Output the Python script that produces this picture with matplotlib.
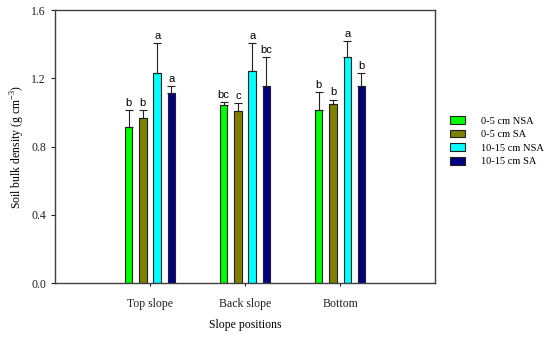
import numpy as np
import matplotlib
matplotlib.use('Agg')
import matplotlib.pyplot as plt

# %% podaci

positions = ['Top slope', 'Back slope', 'Bottom']
series_names = ['0-5 cm NSA', '0-5 cm SA', '10-15 cm NSA', '10-15 cm SA']

nsa_0_5   = [0.912, 1.043, 1.017]
sa_0_5    = [0.965, 1.006, 1.049]
nsa_10_15 = [1.232, 1.244, 1.326]
sa_10_15  = [1.113, 1.156, 1.158]

err_nsa_0_5   = [0.100, 0.017, 0.104]
err_sa_0_5    = [0.047, 0.049, 0.027]
err_nsa_10_15 = [0.173, 0.161, 0.094]
err_sa_10_15  = [0.043, 0.169, 0.073]

letters_nsa_0_5   = ['b', 'bc', 'b']
letters_sa_0_5    = ['b', 'c', 'b']
letters_nsa_10_15 = ['a', 'a', 'a']
letters_sa_10_15  = ['a', 'bc', 'b']

colors = ['#00ff00', '#808000', '#00ffff', '#000080']

values  = [nsa_0_5, sa_0_5, nsa_10_15, sa_10_15]
errors  = [err_nsa_0_5, err_sa_0_5, err_nsa_10_15, err_sa_10_15]
letters = [letters_nsa_0_5, letters_sa_0_5, letters_nsa_10_15, letters_sa_10_15]

# %% grafik

plt.rcParams['font.family'] = 'Liberation Serif'
plt.rcParams['mathtext.fontset'] = 'custom'
plt.rcParams['mathtext.rm'] = 'Liberation Serif'

fig = plt.figure(figsize=(5.5, 3.37), dpi=100)
ax = fig.add_axes([0.1, 0.16, 0.691, 0.81])

x = np.arange(1, len(positions) + 1)
width = 0.077
offsets = [-0.225, -0.075, 0.075, 0.225]

handles = []
for vals, errs, labs, col, off, name in zip(values, errors, letters, colors, offsets, series_names):
    b = ax.bar(x + off, vals, width, color=col, edgecolor='#202020', linewidth=0.8, label=name, zorder=2)
    ax.errorbar(x + off, vals, yerr=[np.zeros(len(vals)), errs], fmt='none',
                ecolor='#202020', elinewidth=0.8, capsize=2.6, capthick=0.8, zorder=3)
    for xi, v, e, l in zip(x + off, vals, errs, labs):
        ax.text(xi, v + e + 0.012, l, ha='center', va='bottom', fontsize=8,
                family='Liberation Sans')
    handles.append(b)

ax.set_xlim(0, 4)
ax.set_ylim(0, 1.6)
ax.set_yticks([0.0, 0.4, 0.8, 1.2, 1.6])
ax.set_yticklabels(['0.0', '0.4', '0.8', '1.2', '1.6'])
ax.set_xticks(x)
ax.set_xticklabels(positions)
ax.tick_params(axis='both', direction='out', labelsize=8.5, length=3, width=0.8, colors='#202020')
ax.tick_params(axis='x', length=2.5, pad=8)
for s in ax.spines.values():
    s.set_color('#404040')
    s.set_linewidth(1.0)

ax.set_xlabel('Slope positions', fontsize=8.5, labelpad=7)
ax.set_ylabel(r'Soil bulk density (g cm$^{\mathrm{-3}}$)', fontsize=8.5, labelpad=3)

fig.legend(handles=handles, labels=series_names, loc='upper left',
           bbox_to_anchor=(0.801, 0.683), frameon=False, fontsize=7.5,
           handlelength=1.45, handleheight=0.75, handletextpad=1.5, labelspacing=0.4)

fig.savefig('out.png', dpi=100)
